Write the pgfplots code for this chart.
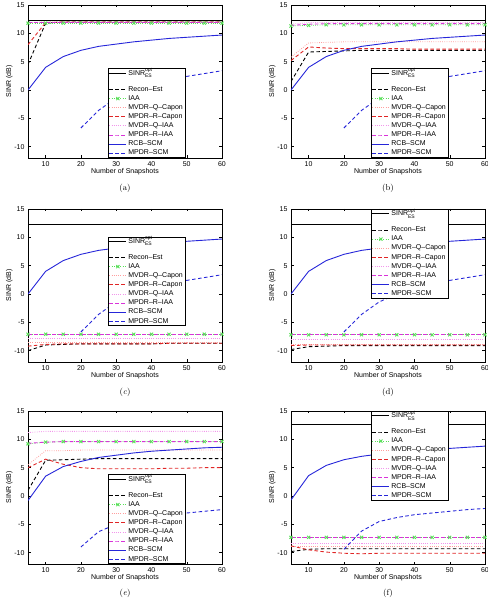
\documentclass[border=0pt]{standalone}
\usepackage{fontspec}
\setsansfont{Liberation Sans}
\usepackage{pgfplots}
\pgfplotsset{compat=1.18}
\usepackage{pgfplotstable}

\definecolor{cgreen}{rgb}{0.35,0.88,0.35}
\definecolor{cpink}{rgb}{1,0.62,0.62}
\definecolor{cred}{rgb}{0.88,0.15,0.15}
\definecolor{cpinkv}{rgb}{0.95,0.58,0.92}
\definecolor{cmag}{rgb}{0.85,0.2,0.85}
\definecolor{cblue}{rgb}{0.15,0.15,0.85}

\newcommand\sz{\sffamily\fontsize{7}{8.4}\selectfont}

\pgfplotstableread{
x opt rec iaa mqc mrc mqi mri rcb scm
5 12.3 4.5 11.8 11.9 8.0 12.0 11.9 0.0 nan
10 12.3 11.8 11.8 12.0 11.9 12.0 11.9 4.0 nan
15 12.3 12.0 11.8 12.0 12.0 12.0 11.9 5.9 nan
20 12.3 12.0 11.8 12.0 12.0 12.0 11.9 7.0 -6.7
25 12.3 12.0 11.8 12.0 12.0 12.0 11.9 7.7 -3.6
30 12.3 12.0 11.8 12.0 12.0 12.0 11.9 8.1 -1.4
35 12.3 12.0 11.8 12.0 12.0 12.0 11.9 8.5 0.0
40 12.3 12.0 11.8 12.0 12.0 12.0 11.9 8.8 1.0
45 12.3 12.0 11.8 12.0 12.0 12.0 11.9 9.1 1.8
50 12.3 12.0 11.8 12.0 12.0 12.0 11.9 9.3 2.4
55 12.3 12.0 11.8 12.0 12.0 12.0 11.9 9.5 2.9
60 12.3 12.0 11.8 12.0 12.0 12.0 11.9 9.7 3.4
}\tA

\pgfplotstableread{
x opt rec iaa mqc mrc mqi mri rcb scm
5 12.3 1.5 11.3 5.8 5.2 11.6 11.4 0.0 nan
10 12.3 6.7 11.4 8.3 7.6 11.9 11.6 4.0 nan
15 12.3 6.8 11.5 8.4 7.4 11.9 11.7 5.9 nan
20 12.3 6.9 11.5 8.5 7.3 11.9 11.7 7.0 -6.7
25 12.3 7.0 11.5 8.5 7.3 11.9 11.7 7.7 -3.6
30 12.3 7.0 11.5 8.5 7.3 11.9 11.7 8.1 -1.4
35 12.3 7.0 11.5 8.5 7.3 11.9 11.7 8.5 0.0
40 12.3 7.0 11.5 8.5 7.2 11.9 11.7 8.8 1.0
45 12.3 7.0 11.5 8.5 7.2 11.9 11.7 9.1 1.8
50 12.3 7.0 11.5 8.5 7.2 11.9 11.7 9.3 2.4
55 12.3 7.0 11.5 8.5 7.2 11.9 11.7 9.5 2.9
60 12.3 7.0 11.5 8.5 7.2 11.9 11.7 9.7 3.4
}\tB

\pgfplotstableread{
x opt rec iaa mqc mrc mqi mri rcb scm
5 12.2 -10.0 -7.1 -8.6 -9.2 -7.9 -7.1 0.0 nan
10 12.2 -9.0 -7.1 -8.6 -8.9 -7.9 -7.1 4.0 nan
15 12.2 -8.9 -7.1 -8.6 -8.8 -7.9 -7.1 5.9 nan
20 12.2 -8.8 -7.1 -8.6 -8.8 -7.9 -7.1 7.0 -6.7
25 12.2 -8.8 -7.1 -8.6 -8.8 -7.9 -7.1 7.7 -3.6
30 12.2 -8.8 -7.1 -8.6 -8.8 -7.9 -7.1 8.1 -1.4
35 12.2 -8.8 -7.1 -8.6 -8.8 -7.9 -7.1 8.5 0.0
40 12.2 -8.8 -7.1 -8.6 -8.8 -7.9 -7.1 8.8 1.0
45 12.2 -8.7 -7.1 -8.6 -8.7 -7.9 -7.1 9.1 1.8
50 12.2 -8.7 -7.1 -8.6 -8.7 -7.9 -7.1 9.3 2.4
55 12.2 -8.7 -7.1 -8.6 -8.7 -7.9 -7.1 9.5 2.9
60 12.2 -8.7 -7.1 -8.6 -8.7 -7.9 -7.1 9.7 3.4
}\tC

\pgfplotstableread{
x opt rec iaa mqc mrc mqi mri rcb scm
5 12.2 -9.8 -7.2 -8.9 -9.1 -8.1 -7.2 0.0 nan
10 12.2 -9.3 -7.2 -8.9 -9.0 -8.1 -7.2 4.0 nan
15 12.2 -9.2 -7.2 -8.9 -9.0 -8.1 -7.2 5.9 nan
20 12.2 -9.1 -7.2 -8.9 -9.0 -8.1 -7.2 7.0 -6.7
25 12.2 -9.1 -7.2 -8.9 -9.0 -8.1 -7.2 7.7 -3.6
30 12.2 -9.1 -7.2 -8.9 -9.0 -8.1 -7.2 8.1 -1.4
35 12.2 -9.1 -7.2 -8.9 -9.0 -8.1 -7.2 8.5 0.0
40 12.2 -9.1 -7.2 -8.9 -9.0 -8.1 -7.2 8.8 1.0
45 12.2 -9.1 -7.2 -8.9 -9.0 -8.1 -7.2 9.1 1.8
50 12.2 -9.1 -7.2 -8.9 -9.0 -8.1 -7.2 9.3 2.4
55 12.2 -9.1 -7.2 -8.9 -9.0 -8.1 -7.2 9.5 2.9
60 12.2 -9.1 -7.2 -8.9 -9.0 -8.1 -7.2 9.7 3.4
}\tD

\pgfplotstableread{
x opt rec iaa mqc mrc mqi mri rcb scm
5 12.3 1.0 9.2 5.5 5.0 11.2 9.3 -0.8 nan
10 12.3 6.3 9.5 8.0 6.5 11.4 9.5 3.5 nan
15 12.3 6.4 9.6 8.0 5.6 11.4 9.6 5.2 nan
20 12.3 6.5 9.6 8.1 5.0 11.4 9.6 6.1 -9.0
25 12.3 6.6 9.6 8.1 4.8 11.4 9.6 6.8 -6.3
30 12.3 6.6 9.6 8.1 4.8 11.4 9.6 7.2 -5.0
35 12.3 6.6 9.6 8.1 4.8 11.4 9.6 7.6 -4.2
40 12.3 6.6 9.6 8.1 4.8 11.4 9.6 7.9 -3.7
45 12.3 6.6 9.6 8.1 4.9 11.4 9.6 8.1 -3.3
50 12.3 6.6 9.6 8.1 4.9 11.4 9.6 8.3 -3.0
55 12.3 6.6 9.6 8.1 5.0 11.4 9.6 8.5 -2.7
60 12.3 6.6 9.6 8.1 5.0 11.4 9.6 8.6 -2.4
}\tE

\pgfplotstableread{
x opt rec iaa mqc mrc mqi mri rcb scm
5 12.6 -9.8 -7.3 -8.9 -8.8 -8.3 -7.4 -0.7 nan
10 12.6 -9.4 -7.3 -8.9 -9.5 -8.3 -7.4 3.6 nan
15 12.6 -9.3 -7.3 -8.9 -9.9 -8.3 -7.4 5.4 nan
20 12.6 -9.3 -7.3 -8.9 -10.1 -8.3 -7.4 6.4 -9.4
25 12.6 -9.3 -7.3 -8.9 -10.2 -8.3 -7.4 7.0 -6.2
30 12.6 -9.3 -7.3 -8.9 -10.1 -8.3 -7.4 7.4 -4.5
35 12.6 -9.3 -7.3 -8.9 -10.1 -8.3 -7.4 7.7 -3.8
40 12.6 -9.3 -7.3 -8.9 -10.1 -8.3 -7.4 8.0 -3.3
45 12.6 -9.3 -7.3 -8.9 -10.1 -8.3 -7.4 8.2 -3.0
50 12.6 -9.3 -7.3 -8.9 -10.1 -8.3 -7.4 8.4 -2.7
55 12.6 -9.3 -7.3 -8.9 -10.1 -8.3 -7.4 8.6 -2.4
60 12.6 -9.3 -7.3 -8.9 -10.1 -8.3 -7.4 8.8 -2.2
}\tF

\pgfplotsset{
  panel/.style={
    scale only axis, width=194pt, height=153pt, anchor=south west,
    xmin=5, xmax=60, ymin=-12, ymax=15,
    xtick={10,20,30,40,50,60}, ytick={-10,-5,0,5,10,15},
    tick align=inside, major tick length=2.5pt,
    every tick/.style={black, line width=0.4pt},
    axis line style={line width=0.6pt},
    ticklabel style={font=\sz},
    /pgf/number format/assume math mode=true,
    xlabel={Number of Snapshots}, ylabel={SINR (dB)},
    label style={font=\sz},
    xlabel style={yshift=5pt}, ylabel style={yshift=-5pt},
    legend cell align=left,
    legend style={font=\sz, draw=black, line width=0.8pt, fill=white,
      inner xsep=1pt, inner ysep=0.5pt, row sep=1.3pt,
      nodes={inner ysep=0.5pt, inner xsep=1.5pt, text height=5.2pt, text depth=1.6pt}},
  },
  sOpt/.style={black, line width=0.9pt, solid,
    legend image code/.code={\path[draw=none, fill=none] (0cm,-11pt) rectangle (0.6cm,3.7pt);
      \draw[##1] (0cm,0cm) -- (0.6cm,0cm);}},
  sRec/.style={black, line width=0.9pt, dash pattern=on 3.5pt off 2.5pt},
  sIAA/.style={cgreen, line width=0.8pt, dash pattern=on 0.8pt off 1.4pt, mark=x, mark size=2.2pt, mark options={solid, line width=0.9pt}},
  sMQC/.style={cpink, line width=0.8pt, dash pattern=on 0.8pt off 1.4pt},
  sMRC/.style={cred, line width=0.9pt, dash pattern=on 3.5pt off 2.5pt},
  sMQI/.style={cpinkv, line width=0.8pt, dash pattern=on 0.8pt off 1.4pt},
  sMRI/.style={cmag, line width=0.9pt, dash pattern=on 3.5pt off 2.5pt},
  sRCB/.style={cblue, line width=0.9pt, solid},
  sSCM/.style={cblue, line width=0.9pt, dash pattern=on 3.5pt off 2.5pt},
}

\newcommand\panel[1]{%
  \addplot[sOpt] table[x=x,y=opt]{#1};
  \addplot[sRec] table[x=x,y=rec]{#1};
  \addplot[sIAA] table[x=x,y=iaa]{#1};
  \addplot[sMQC] table[x=x,y=mqc]{#1};
  \addplot[sMRC] table[x=x,y=mrc]{#1};
  \addplot[sMQI] table[x=x,y=mqi]{#1};
  \addplot[sMRI] table[x=x,y=mri]{#1};
  \addplot[sRCB] table[x=x,y=rcb]{#1};
  \addplot[sSCM] table[x=x,y=scm]{#1};
  \legend{SINR$^{\mbox{\fontsize{5}{5}\selectfont opt}}_{\mbox{\fontsize{5}{5}\selectfont ES}}$,
    Recon--Est, IAA, MVDR--Q--Capon, MPDR--R--Capon,
    MVDR--Q--IAA, MPDR--R--IAA, RCB--SCM, MPDR--SCM}
}

\begin{document}
\begin{tikzpicture}
\useasboundingbox (0,0) rectangle (488pt,598pt);
% (a)
\begin{axis}[panel, at={(28pt,440pt)},
  legend style={at={(0.41,0)}, anchor=south west}]
\panel{\tA}
\end{axis}
% (b)
\begin{axis}[panel, at={(291pt,440pt)},
  legend style={at={(0.41,0)}, anchor=south west}]
\panel{\tB}
\end{axis}
% (c)
\begin{axis}[panel, at={(28pt,236pt)},
  legend style={at={(0.41,0.82)}, anchor=north west}]
\panel{\tC}
\end{axis}
% (d)
\begin{axis}[panel, at={(291pt,236pt)},
  legend style={at={(0.41,1)}, anchor=north west}]
\panel{\tD}
\end{axis}
% (e)
\begin{axis}[panel, at={(28pt,34pt)},
  legend style={at={(0.41,0)}, anchor=south west}]
\panel{\tE}
\end{axis}
% (f)
\begin{axis}[panel, at={(291pt,34pt)},
  legend style={at={(0.41,1)}, anchor=north west}]
\panel{\tF}
\end{axis}
\node[font=\rmfamily\fontsize{8.5}{10}\selectfont] at (125pt,410pt) {(a)};
\node[font=\rmfamily\fontsize{8.5}{10}\selectfont] at (388pt,410pt) {(b)};
\node[font=\rmfamily\fontsize{8.5}{10}\selectfont] at (125pt,206pt) {(\textit{c})};
\node[font=\rmfamily\fontsize{8.5}{10}\selectfont] at (388pt,206pt) {(d)};
\node[font=\rmfamily\fontsize{8.5}{10}\selectfont] at (125pt,5pt) {(\textit{e})};
\node[font=\rmfamily\fontsize{8.5}{10}\selectfont] at (388pt,5pt) {(f)};
\end{tikzpicture}
\end{document}
